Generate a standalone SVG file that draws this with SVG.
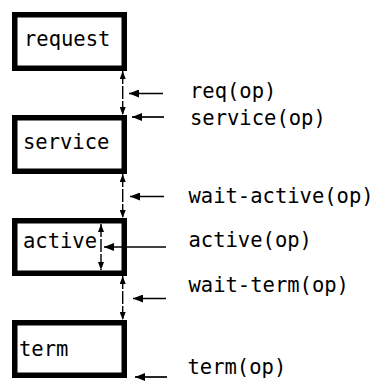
<svg xmlns="http://www.w3.org/2000/svg" width="379" height="385" viewBox="0 0 379 385">
  <style>
    .box { fill: #fff; stroke: #000; stroke-width: 5.5; }
    .txt { font-family: "DejaVu Sans Mono", "Liberation Mono", monospace; font-size: 20.5px; fill: #000; }
    .link { stroke: #000; stroke-width: 1.4; fill: none; stroke-dasharray: 13 2; }
    .ptr { stroke: #000; stroke-width: 1.7; fill: none; }
  </style>
  <defs>
    <marker id="head" viewBox="0 0 10 8" refX="10" refY="4" markerWidth="10" markerHeight="8" markerUnits="userSpaceOnUse" orient="auto-start-reverse">
      <path d="M0,0 L10,4 L0,8 Z" fill="#000"/>
    </marker>
    <marker id="tip" viewBox="0 0 8 6" refX="8" refY="3" markerWidth="8" markerHeight="6" markerUnits="userSpaceOnUse" orient="auto-start-reverse">
      <path d="M0,0 L8,3 L0,6 Z" fill="#000"/>
    </marker>
  </defs>

  <!-- states -->
  <g id="request">
    <rect class="box" x="14.75" y="14.75" width="109.5" height="53.5"/>
    <text class="txt" x="24" y="46">request</text>
  </g>
  <g id="service">
    <rect class="box" x="14.75" y="117.75" width="109.5" height="53.5"/>
    <text class="txt" x="23" y="149">service</text>
  </g>
  <g id="active">
    <rect class="box" x="14.75" y="220.75" width="109.5" height="52.5"/>
    <text class="txt" x="23" y="248">active</text>
  </g>
  <g id="term">
    <rect class="box" x="14.75" y="322.75" width="109.5" height="52.5"/>
    <text class="txt" x="19" y="356">term</text>
  </g>

  <!-- transitions and event pointers -->
  <g id="connectors">
    <line class="link" x1="122.7" y1="71" x2="122.7" y2="115" marker-start="url(#tip)" marker-end="url(#tip)"/>
    <line class="link" x1="122.7" y1="174" x2="122.7" y2="218" marker-start="url(#tip)" marker-end="url(#tip)"/>
    <line class="link" x1="122.7" y1="276" x2="122.7" y2="320" marker-start="url(#tip)" marker-end="url(#tip)"/>
    <line class="link" x1="101" y1="224" x2="101" y2="270" marker-start="url(#tip)" marker-end="url(#tip)"/>

    <line class="ptr" x1="163" y1="93.5" x2="129" y2="93.5" marker-end="url(#head)"/>
    <line class="ptr" x1="164" y1="117" x2="132" y2="117" marker-end="url(#head)"/>
    <line class="ptr" x1="164" y1="196.5" x2="130" y2="196.5" marker-end="url(#head)"/>
    <line class="ptr" x1="166" y1="247" x2="104" y2="247" marker-end="url(#head)"/>
    <line class="ptr" x1="166" y1="298.5" x2="133" y2="298.5" marker-end="url(#head)"/>
    <line class="ptr" x1="167" y1="377" x2="135" y2="377" marker-end="url(#head)"/>
  </g>

  <!-- event labels -->
  <g id="labels">
    <text class="txt" x="190" y="98">req(op)</text>
    <text class="txt" x="190" y="125">service(op)</text>
    <text class="txt" x="188.5" y="203">wait-active(op)</text>
    <text class="txt" x="188.5" y="247">active(op)</text>
    <text class="txt" x="188.5" y="292">wait-term(op)</text>
    <text class="txt" x="187.5" y="374">term(op)</text>
  </g>
</svg>
